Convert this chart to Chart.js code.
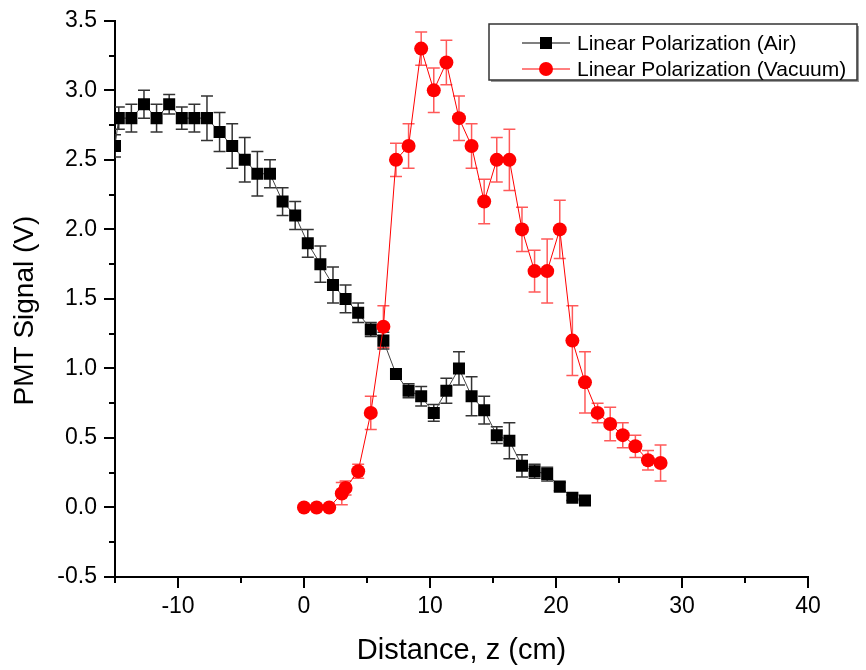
<!DOCTYPE html>
<html>
<head>
<meta charset="utf-8">
<script src="https://cdn.jsdelivr.net/npm/chart.js@4.4.1/dist/chart.umd.min.js"></script>
<style>
  html, body { margin: 0; padding: 0; background: #fff; }
  canvas { display: block; }
</style>
</head>
<body>
<canvas id="chart_pmt" width="866" height="670"></canvas>
<script>
// Linear Polarization (Air)
var xAir = [-15.0, -14.7, -13.7, -12.7, -11.7, -10.7, -9.7, -8.7, -7.7, -6.7, -5.7, -4.7, -3.7, -2.7, -1.7, -0.7,
            0.3, 1.3, 2.3, 3.3, 4.3, 5.3, 6.3, 7.3, 8.3, 9.3, 10.3, 11.3, 12.3, 13.3, 14.3, 15.3, 16.3, 17.3,
            18.3, 19.3, 20.3, 21.3, 22.3];
var yAir = [2.6, 2.8, 2.8, 2.9, 2.8, 2.9, 2.8, 2.8, 2.8, 2.7, 2.6, 2.5, 2.4, 2.4, 2.2, 2.1,
            1.9, 1.75, 1.6, 1.5, 1.4, 1.28, 1.2, 0.96, 0.84, 0.8, 0.68, 0.84, 1.0, 0.8, 0.7, 0.52, 0.48, 0.3,
            0.26, 0.24, 0.15, 0.07, 0.05];
var errAir = [0.08, 0.08, 0.1, 0.1, 0.1, 0.07, 0.08, 0.1, 0.16, 0.14, 0.16, 0.16, 0.16, 0.1, 0.1, 0.1,
              0.1, 0.13, 0.13, 0.1, 0.07, 0.05, 0.06, 0.02, 0.05, 0.07, 0.06, 0.09, 0.12, 0.14, 0.1, 0.06, 0.13, 0.08,
              0.05, 0.05, 0.03, 0.02, 0.01];

// Linear Polarization (Vacuum)
var xVac = [0, 1, 2, 3, 3.3, 4.3, 5.3, 6.3, 7.3, 8.3, 9.3, 10.3, 11.3, 12.3, 13.3, 14.3, 15.3, 16.3,
            17.3, 18.3, 19.3, 20.3, 21.3, 22.3, 23.3, 24.3, 25.3, 26.3, 27.3, 28.3];
var yVac = [0, 0, 0, 0.1, 0.14, 0.26, 0.68, 1.3, 2.5, 2.6, 3.3, 3.0, 3.2, 2.8, 2.6, 2.2, 2.5, 2.5,
            2.0, 1.7, 1.7, 2.0, 1.2, 0.9, 0.68, 0.6, 0.52, 0.44, 0.34, 0.32];
var errVac = [0, 0, 0, 0.08, 0.05, 0.05, 0.12, 0.15, 0.12, 0.16, 0.12, 0.16, 0.16, 0.16, 0.16, 0.16, 0.16, 0.22,
              0.16, 0.15, 0.23, 0.21, 0.25, 0.22, 0.07, 0.12, 0.09, 0.08, 0.07, 0.13];

var xTicks = [-10, 0, 10, 20, 30, 40];
var xMinorTicks = [-15, -5, 5, 15, 25, 35];
var yMinorTicks = [-0.25, 0.25, 0.75, 1.25, 1.75, 2.25, 2.75, 3.25];

var labelAir = 'Linear Polarization (Air)';
var labelVac = 'Linear Polarization (Vacuum)';

var FONT = 'Liberation Sans, Arial, sans-serif';

function toPoints(xs, ys) {
    return xs.map(function (x, i) { return {x: x, y: ys[i]}; });
}

// error bars, drawn under the markers
var errorBars = {
    id: 'errorBars',
    beforeDatasetsDraw: function (chart) {
        var ctx = chart.ctx;
        var area = chart.chartArea;
        var xs = chart.scales.x, ys = chart.scales.y;
        ctx.save();
        ctx.beginPath();
        ctx.rect(area.left, area.top, area.right - area.left, area.bottom - area.top);
        ctx.clip();
        chart.data.datasets.forEach(function (ds) {
            ctx.strokeStyle = ds.errorColor;
            ctx.lineWidth = 1.5;
            ds.data.forEach(function (p, i) {
                var e = ds.errors[i];
                if (!e) return;
                var px = xs.getPixelForValue(p.x);
                var top = ys.getPixelForValue(p.y + e);
                var bot = ys.getPixelForValue(p.y - e);
                ctx.beginPath();
                ctx.moveTo(px, top); ctx.lineTo(px, bot);
                ctx.moveTo(px - 6, top); ctx.lineTo(px + 6, top);
                ctx.moveTo(px - 6, bot); ctx.lineTo(px + 6, bot);
                ctx.stroke();
            });
        });
        ctx.restore();
    }
};

// minor ticks on both axes
var minorTicks = {
    id: 'minorTicks',
    afterDraw: function (chart) {
        var ctx = chart.ctx;
        var area = chart.chartArea;
        var xs = chart.scales.x, ys = chart.scales.y;
        ctx.save();
        ctx.strokeStyle = '#000';
        ctx.lineWidth = 2;
        ctx.beginPath();
        xMinorTicks.forEach(function (v) {
            var px = Math.round(xs.getPixelForValue(v));
            ctx.moveTo(px, area.bottom); ctx.lineTo(px, area.bottom + 6);
        });
        yMinorTicks.forEach(function (v) {
            var py = Math.round(ys.getPixelForValue(v));
            ctx.moveTo(area.left, py); ctx.lineTo(area.left - 6, py);
        });
        ctx.stroke();
        ctx.restore();
    }
};

// boxed legend in the upper right corner
var boxLegend = {
    id: 'boxLegend',
    afterDraw: function (chart) {
        var ctx = chart.ctx;
        var bx = 489, by = 24, bw = 368, bh = 56;
        ctx.save();
        ctx.fillStyle = '#9a9a9a';
        ctx.fillRect(bx + 2, by + bh, bw, 2);
        ctx.fillRect(bx + bw, by + 2, 2, bh);
        ctx.fillStyle = '#fff';
        ctx.fillRect(bx, by, bw, bh);
        ctx.strokeStyle = '#333';
        ctx.lineWidth = 1.5;
        ctx.strokeRect(bx, by, bw, bh);

        var rows = [
            {y: by + 19, line: '#808080', lw: 2, style: 'rect', text: labelAir},
            {y: by + 45, line: '#ff0000', lw: 1, style: 'circle', text: labelVac}
        ];
        rows.forEach(function (r) {
            ctx.strokeStyle = r.line;
            ctx.lineWidth = r.lw;
            ctx.beginPath();
            ctx.moveTo(522, r.y); ctx.lineTo(570, r.y);
            ctx.stroke();
            if (r.style === 'rect') {
                ctx.fillStyle = '#000';
                ctx.fillRect(540, r.y - 6, 12, 12);
            } else {
                ctx.fillStyle = '#ff0000';
                ctx.beginPath();
                ctx.arc(546, r.y, 7, 0, Math.PI * 2);
                ctx.fill();
            }
            ctx.fillStyle = '#000';
            ctx.font = '21px ' + FONT;
            ctx.textBaseline = 'middle';
            ctx.textAlign = 'left';
            ctx.fillText(r.text, 577, r.y + 1);
        });
        ctx.restore();
    }
};

var chart_pmt = new Chart(document.getElementById('chart_pmt'), {
    type: 'scatter',
    data: {
        datasets: [{
            label: labelAir,
            data: toPoints(xAir, yAir),
            errors: errAir,
            errorColor: '#333',
            showLine: true,
            borderColor: '#444',
            borderWidth: 1,
            backgroundColor: '#000',
            pointStyle: 'rect',
            pointRadius: 8.5,
            pointBorderWidth: 0,
            pointHoverRadius: 8.5,
            clip: 0,
            order: 1
        }, {
            label: labelVac,
            data: toPoints(xVac, yVac),
            errors: errVac,
            errorColor: 'rgba(255, 0, 0, 0.65)',
            showLine: true,
            borderColor: '#ff0000',
            borderWidth: 1,
            backgroundColor: '#ff0000',
            pointStyle: 'circle',
            pointRadius: 7,
            pointBorderWidth: 0,
            pointHoverRadius: 7,
            clip: 0,
            order: 0
        }]
    },
    options: {
        responsive: false,
        animation: false,
        devicePixelRatio: 1,
        layout: {
            padding: {top: 15, right: 58, left: 0, bottom: 0}
        },
        plugins: {
            legend: {display: false},
            tooltip: {enabled: false}
        },
        scales: {
            x: {
                type: 'linear',
                position: 'bottom',
                min: -15,
                max: 40,
                afterBuildTicks: function (scale) {
                    scale.ticks = xTicks.map(function (v) { return {value: v}; });
                },
                afterFit: function (scale) { scale.height = 93; },
                grid: {drawOnChartArea: false, drawTicks: true, tickLength: 11, color: '#000', lineWidth: 2},
                border: {display: true, color: '#000', width: 2},
                ticks: {color: '#000', font: {family: FONT, size: 23}, padding: 5, maxRotation: 0},
                title: {
                    display: true,
                    text: 'Distance, z (cm)',
                    color: '#000',
                    font: {family: FONT, size: 29},
                    padding: {top: 0, bottom: 2}
                }
            },
            y: {
                type: 'linear',
                min: -0.5,
                max: 3.5,
                afterFit: function (scale) { scale.width = 115; },
                grid: {drawOnChartArea: false, drawTicks: true, tickLength: 11, color: '#000', lineWidth: 2},
                border: {display: true, color: '#000', width: 2},
                ticks: {
                    stepSize: 0.5,
                    color: '#000',
                    font: {family: FONT, size: 23},
                    padding: 7,
                    callback: function (v) { return v.toFixed(1); }
                },
                title: {
                    display: true,
                    text: 'PMT Signal (V)   ',
                    color: '#000',
                    font: {family: FONT, size: 28},
                    padding: {top: 8, bottom: 0}
                }
            }
        }
    },
    plugins: [errorBars, minorTicks, boxLegend]
});
</script>
</body>
</html>
